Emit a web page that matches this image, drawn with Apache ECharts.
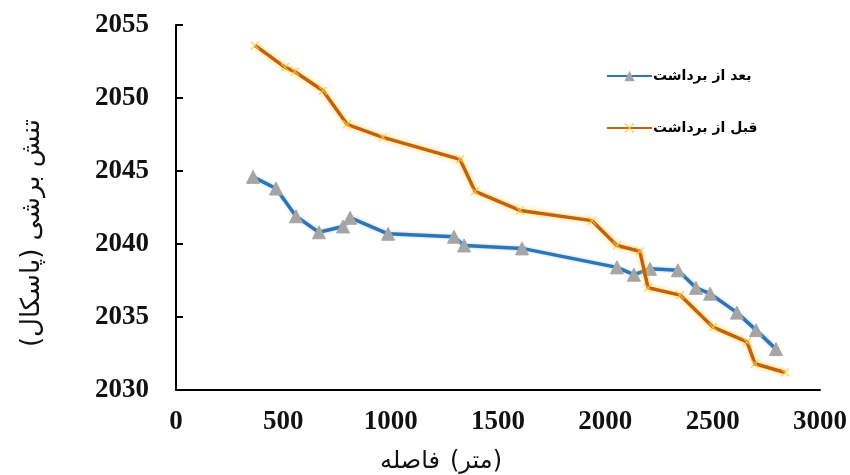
<!DOCTYPE html>
<html>
<head>
<meta charset="utf-8">
<script src="https://cdn.jsdelivr.net/npm/echarts@6/dist/echarts.min.js"></script>
<style>html,body{margin:0;padding:0;background:#fff}#c{width:850px;height:475px}</style>
</head>
<body>
<div id="c"></div>
<script>
// Data
const afterName = 'بعد از برداشت';
const beforeName = 'قبل از برداشت';
const afterX = [359, 466, 559, 666, 778, 811, 988, 1295, 1342, 1612, 2054, 2133, 2208, 2338, 2422, 2488, 2613, 2702, 2795];
const afterY = [2044.6, 2043.8, 2041.9, 2040.8, 2041.2, 2041.8, 2040.7, 2040.5, 2039.9, 2039.7, 2038.4, 2037.9, 2038.3, 2038.2, 2037.0, 2036.6, 2035.3, 2034.1, 2032.8];
const beforeX = [368, 508, 554, 685, 797, 964, 1323, 1393, 1602, 1938, 2054, 2161, 2199, 2348, 2502, 2660, 2697, 2837];
const beforeY = [2053.6, 2052.1, 2051.8, 2050.5, 2048.2, 2047.3, 2045.8, 2043.6, 2042.3, 2041.6, 2039.9, 2039.5, 2037.0, 2036.5, 2034.3, 2033.3, 2031.8, 2031.2];
const xTicks = {min: 0, max: 3000, interval: 500};
const yTicks = {min: 2030, max: 2055, interval: 5};
const xTitleWord = 'فاصله';
const xTitleUnit = '(متر)';
const yTitle = '\u200Fتنش برشی (پاسکال)\u200F';

const zip = (xs, ys) => xs.map((x, i) => [x, ys[i]]);
const chart = echarts.init(document.getElementById('c'), null, {renderer: 'canvas'});
const numFont = {fontFamily: 'Liberation Serif', fontWeight: 'bold', fontSize: 27, color: '#111', formatter: v => String(v)};
const xMark = 'path://M0,1L1,0L5,4L9,0L10,1L6,5L10,9L9,10L5,6L1,10L0,9L4,5Z';

chart.setOption({
  animation: false,
  backgroundColor: '#fff',
  grid: {left: 176, right: 30, top: 25, bottom: 85, containLabel: false},
  xAxis: {
    type: 'value', min: xTicks.min, max: xTicks.max, interval: xTicks.interval,
    axisLine: {show: true, lineStyle: {color: '#000', width: 2}},
    axisTick: {show: false},
    splitLine: {show: false},
    axisLabel: Object.assign({margin: 19}, numFont)
  },
  yAxis: {
    type: 'value', min: yTicks.min, max: yTicks.max, interval: yTicks.interval,
    axisLine: {show: true, lineStyle: {color: '#000', width: 2}},
    axisTick: {show: true, inside: true, length: 7, lineStyle: {color: '#000', width: 2}},
    splitLine: {show: false},
    axisLabel: Object.assign({margin: 27}, numFont)
  },
  legend: {
    orient: 'vertical', left: 601, top: 64, itemGap: 38,
    itemWidth: 45, itemHeight: 13,
    textStyle: {fontFamily: 'DejaVu Sans', fontWeight: 'bold', fontSize: 14, color: '#000', padding: [0, 0, 0, -4]},
    data: [afterName, beforeName]
  },
  graphic: [
    {type: 'text', x: 410, y: 462,
     style: {text: xTitleWord, textAlign: 'center', textVerticalAlign: 'middle',
             font: '24px "DejaVu Sans"', fill: '#111'}},
    {type: 'text', x: 476, y: 462,
     style: {text: xTitleUnit, textAlign: 'center', textVerticalAlign: 'middle',
             font: '24px "DejaVu Sans"', fill: '#111'}},
    {type: 'text', x: 32, y: 233, rotation: Math.PI / 2,
     style: {text: yTitle, textAlign: 'center', textVerticalAlign: 'middle',
             font: '26px "DejaVu Sans"', fill: '#111'}}
  ],
  series: [
    {
      name: afterName, type: 'line', data: zip(afterX, afterY),
      symbol: 'triangle', symbolSize: 13, showSymbol: true,
      lineStyle: {color: '#2e75b6', width: 3.5, shadowColor: 'rgba(120,170,230,0.6)', shadowBlur: 3},
      itemStyle: {color: '#a5a5a5', borderColor: '#a5a5a5'},
      z: 3
    },
    {
      name: beforeName, type: 'line', data: zip(beforeX, beforeY),
      symbol: xMark, symbolSize: 9, showSymbol: true,
      lineStyle: {color: '#c5600e', width: 3.5, shadowColor: 'rgba(255,205,60,0.9)', shadowBlur: 5},
      itemStyle: {color: 'rgba(245,200,70,0.8)', borderWidth: 0},
      z: 4
    }
  ]
});
</script>
</body>
</html>
